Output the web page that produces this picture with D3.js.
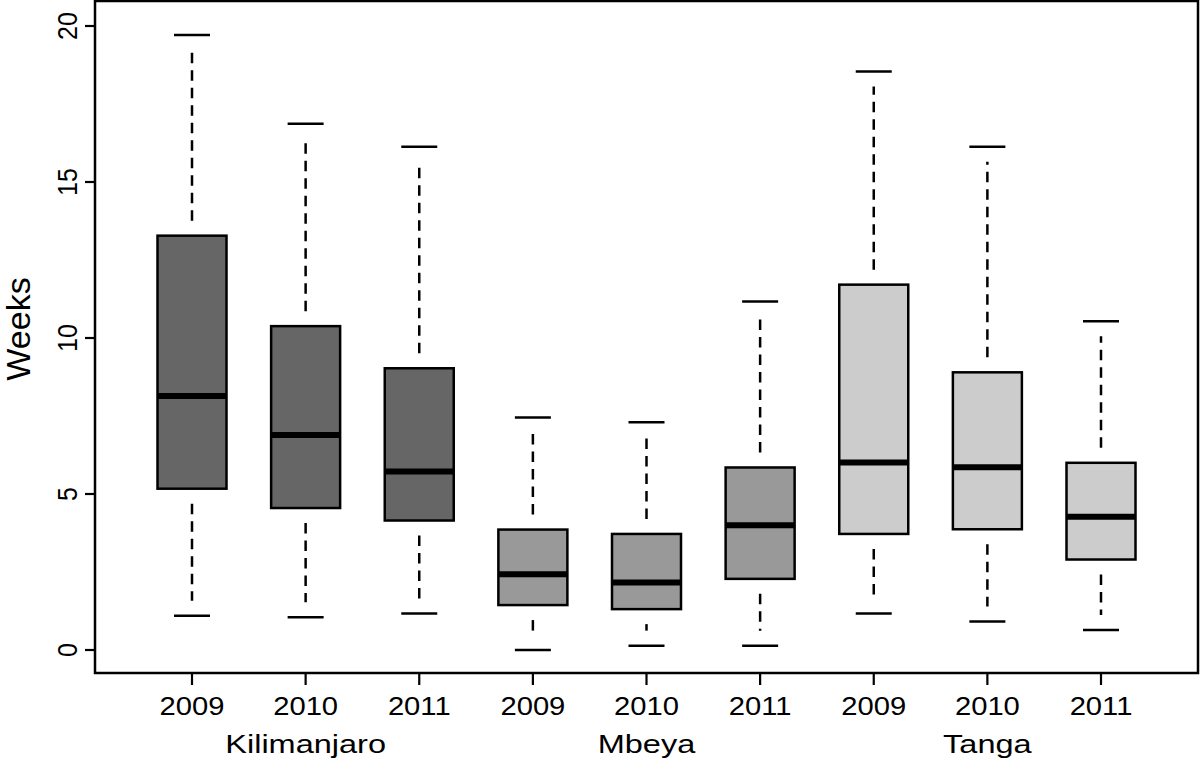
<!DOCTYPE html>
<html><head><meta charset="utf-8">
<script src="https://cdn.jsdelivr.net/npm/d3@7"></script>
<style>body{margin:0;background:#fff}svg{display:block}</style>
</head><body>
<svg id="c" width="1200" height="765"></svg>
<script>
const regions = ["Kilimanjaro", "Mbeya", "Tanga"];
const years = ["2009", "2010", "2011"];
const regionColors = ["#666666", "#999999", "#cccccc"];
// per box, order: K2009..K2011, M2009..M2011, T2009..T2011
const lowerWhisker = [1.10, 1.05, 1.17, 0.00, 0.14, 0.14, 1.17, 0.91, 0.64];
const q1 = [5.17, 4.55, 4.15, 1.44, 1.31, 2.28, 3.72, 3.87, 2.90];
const median = [8.14, 6.89, 5.72, 2.43, 2.16, 4.00, 6.01, 5.86, 4.27];
const q3 = [13.28, 10.38, 9.03, 3.86, 3.72, 5.85, 11.71, 8.90, 6.00];
const upperWhisker = [19.71, 16.87, 16.13, 7.45, 7.30, 11.17, 18.54, 16.13, 10.54];
const yTicks = [0, 5, 10, 15, 20];

const boxes = [];
regions.forEach((r, ri) => years.forEach((yr, yi) => {
  const i = ri * 3 + yi;
  boxes.push({key: r + "-" + yr, region: r, ri, year: yr,
    lo: lowerWhisker[i], q1: q1[i], med: median[i], q3: q3[i], hi: upperWhisker[i]});
}));

const svg = d3.select("#c");
const L = 95, R = 1198, T = 1, B = 673;
const x = d3.scalePoint().domain(boxes.map(d => d.key)).range([192, 1101]);
const y = d3.scaleLinear().domain([0, 20]).range([650, 26]);
const halfBox = 34.5, halfCap = 18;
const font = "'Liberation Sans', Arial, Helvetica, sans-serif";

const g = svg.append("g");
// whiskers
const wh = g.selectAll("g.b").data(boxes).join("g").attr("class", "b");
const inset = 15;
wh.append("line")
  .attr("x1", d => x(d.key)).attr("x2", d => x(d.key))
  .attr("y1", d => y(d.q3) - inset).attr("y2", d => y(d.hi) + inset)
  .attr("stroke", "#000").attr("stroke-width", 2.5).attr("stroke-dasharray", "10.5,7");
wh.append("line")
  .attr("x1", d => x(d.key)).attr("x2", d => x(d.key))
  .attr("y1", d => y(d.q1) + inset).attr("y2", d => y(d.lo) - inset)
  .attr("stroke", "#000").attr("stroke-width", 2.5).attr("stroke-dasharray", "10.5,7");
["hi", "lo"].forEach(k => {
  wh.append("line")
    .attr("x1", d => x(d.key) - halfCap).attr("x2", d => x(d.key) + halfCap)
    .attr("y1", d => y(d[k])).attr("y2", d => y(d[k]))
    .attr("stroke", "#000").attr("stroke-width", 2.5);
});
wh.append("rect")
  .attr("x", d => x(d.key) - halfBox).attr("width", halfBox * 2)
  .attr("y", d => y(d.q3)).attr("height", d => y(d.q1) - y(d.q3))
  .attr("fill", d => regionColors[d.ri]).attr("stroke", "#000").attr("stroke-width", 2.5);
wh.append("line")
  .attr("x1", d => x(d.key) - halfBox).attr("x2", d => x(d.key) + halfBox)
  .attr("y1", d => y(d.med)).attr("y2", d => y(d.med))
  .attr("stroke", "#000").attr("stroke-width", 6);

// frame
svg.append("rect").attr("x", L).attr("y", T).attr("width", R - L).attr("height", B - T)
  .attr("fill", "none").attr("stroke", "#000").attr("stroke-width", 2.5);

// y axis
const yAx = svg.append("g");
yAx.selectAll("line").data(yTicks).join("line")
  .attr("x1", 85).attr("x2", L).attr("y1", d => y(d)).attr("y2", d => y(d))
  .attr("stroke", "#000").attr("stroke-width", 2.2);
yAx.selectAll("text").data(yTicks).join("text")
  .attr("transform", d => `translate(77,${y(d)}) scale(1.14,1) rotate(-90)`)
  .attr("text-anchor", "middle").attr("font-family", font).attr("font-size", 25)
  .text(d => d);

// x axis
const xAx = svg.append("g");
xAx.selectAll("line").data(boxes).join("line")
  .attr("x1", d => x(d.key)).attr("x2", d => x(d.key)).attr("y1", B).attr("y2", 685)
  .attr("stroke", "#000").attr("stroke-width", 2.2);
xAx.selectAll("text").data(boxes).join("text")
  .attr("transform", d => `translate(${x(d.key)},715) scale(1.14,1)`)
  .attr("text-anchor", "middle").attr("font-family", font).attr("font-size", 25.6)
  .text(d => d.year);

// group labels
svg.append("g").selectAll("text").data(regions).join("text")
  .attr("transform", (r, i) => `translate(${x(r + "-" + years[1])},753) scale(1.25,1)`)
  .attr("text-anchor", "middle").attr("font-family", font).attr("font-size", 26)
  .text(d => d);

// y label
svg.append("text").attr("transform", "translate(30,329) rotate(-90)")
  .attr("text-anchor", "middle").attr("font-family", font).attr("font-size", 34)
  .text("Weeks");
</script>
</body></html>
